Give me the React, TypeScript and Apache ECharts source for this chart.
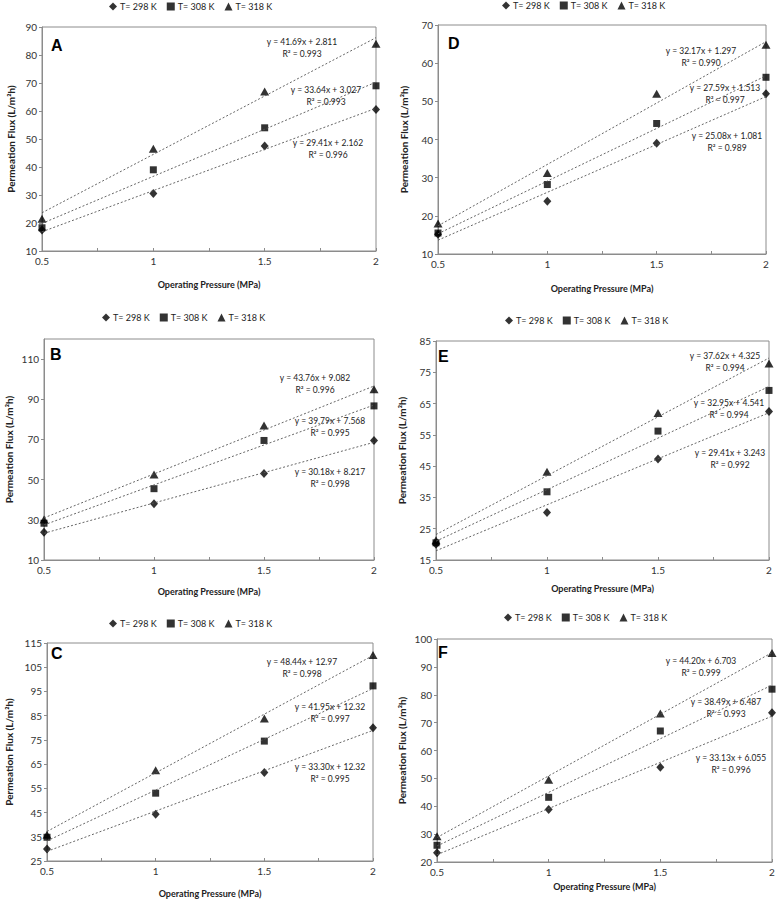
import { useEffect, useRef } from 'react'
import * as echarts from 'echarts'

const pressures = [0.5, 1, 1.5, 2]
const seriesNames = ['T= 298 K', 'T= 308 K', 'T= 318 K']
const symbols = ['diamond', 'rect', 'triangle']
const symbolSizes: any[] = [[8, 9], 7, [9, 8]]
const panelLetters = ['A', 'B', 'C', 'D', 'E', 'F']

// measured flux per panel, rows are 298 / 308 / 318 K
const fluxA = [[17.5, 30.5, 47.5, 60.5], [18.3, 39, 54, 69], [21.5, 46.5, 67, 84]]
const fluxB = [[23.8, 38, 53, 69.5], [28.3, 45.5, 69.5, 86.7], [30.2, 52.5, 77, 95]]
const fluxC = [[30, 44.3, 61.5, 80], [34.8, 53, 74.5, 97.3], [35.8, 62.5, 83.8, 110]]
const fluxD = [[15.2, 23.8, 39, 52], [15.5, 28.2, 44.2, 56.3], [18, 31.2, 52, 64.8]]
const fluxE = [[20, 30.2, 47.3, 62.5], [20.5, 36.8, 56.2, 69.2], [21.3, 43.2, 62, 77.8]]
const fluxF = [[23.3, 38.8, 54, 73.5], [26, 43.2, 67, 82], [29.2, 49.5, 73.3, 95]]

// linear fits shown on the chart
const slopesA = [29.41, 33.64, 41.69]
const interceptsA = [2.162, 3.027, 2.811]
const r2A = ['0.996', '0.993', '0.993']
const slopesB = [30.18, 39.79, 43.76]
const interceptsB = [8.217, 7.568, 9.082]
const r2B = ['0.998', '0.995', '0.996']
const slopesC = [33.3, 41.95, 48.44]
const interceptsC = [12.32, 12.32, 12.97]
const r2C = ['0.995', '0.997', '0.998']
const slopesD = [25.08, 27.59, 32.17]
const interceptsD = [1.081, 1.513, 1.297]
const r2D = ['0.989', '0.997', '0.990']
const slopesE = [29.41, 32.95, 37.62]
const interceptsE = [3.243, 4.541, 4.325]
const r2E = ['0.992', '0.994', '0.994']
const slopesF = [33.13, 38.49, 44.2]
const interceptsF = [6.055, 6.487, 6.703]
const r2F = ['0.996', '0.993', '0.999']

// y axis min / max / step
const yMins = [10, 10, 25, 10, 15, 20]
const yMaxs = [90, 120, 115, 70, 85, 100]
const ySteps = [10, 20, 10, 10, 10, 10]

const fluxes = [fluxA, fluxB, fluxC, fluxD, fluxE, fluxF]
const slopes = [slopesA, slopesB, slopesC, slopesD, slopesE, slopesF]
const intercepts = [interceptsA, interceptsB, interceptsC, interceptsD, interceptsE, interceptsF]
const r2s = [r2A, r2B, r2C, r2D, r2E, r2F]

// layout (pixels)
const grids = [
  [42, 27, 334, 224],
  [44, 339, 330, 221],
  [47, 643, 326, 218],
  [438, 25, 328, 229],
  [436, 341, 333, 219],
  [437, 639, 335, 223],
]
const legendPos = [[109, 2], [102, 313], [109, 619], [502, 1], [505, 316], [504, 613]]
const yNameGaps = [26, 30, 33, 29, 29, 30]
const xNameGaps = [29, 27, 28, 30, 24, 20]
const letterPos = [[51, 45], [50, 354], [51, 653], [448, 43], [438, 356], [438, 652]]
const eqPos = [
  [[328, 149], [326, 96], [302, 48]],
  [[330, 478], [330, 427], [315, 384]],
  [[330, 773], [330, 713], [302, 668]],
  [[727, 142], [725, 94], [701, 57]],
  [[730, 459], [729, 409], [725, 362]],
  [[731, 764], [726, 708], [701, 667]],
]

const FONT = 'Lato, "Liberation Sans", sans-serif'
const AXIS_GREY = '#8c8c8c'

export default function App() {
  const ref = useRef<HTMLDivElement>(null)

  useEffect(() => {
    if (!ref.current) return
    const chart = echarts.init(ref.current, undefined, { renderer: 'svg' })

    const series: any[] = []
    const graphic: any[] = []
    fluxes.forEach((flux, i) => {
      flux.forEach((vals, k) => {
        series.push({
          type: 'scatter',
          name: seriesNames[k],
          xAxisIndex: i,
          yAxisIndex: i,
          symbol: symbols[k],
          symbolSize: symbolSizes[k],
          itemStyle: { color: '#000' },
          data: pressures.map((x, j) => [x, vals[j]]),
          z: 3,
        })
        const ends = [pressures[0], pressures[pressures.length - 1]]
        series.push({
          type: 'line',
          xAxisIndex: i,
          yAxisIndex: i,
          symbol: 'none',
          silent: true,
          lineStyle: { color: '#555', width: 0.9, type: [2, 2] },
          data: ends.map((x) => [x, slopes[i][k] * x + intercepts[i][k]]),
          z: 4,
        })
        graphic.push({
          type: 'text',
          x: eqPos[i][k][0],
          y: eqPos[i][k][1],
          z: 10,
          style: {
            text: `y = ${slopes[i][k].toFixed(2)}x + ${intercepts[i][k]}\nR² = ${r2s[i][k]}`,
            fontFamily: FONT,
            fontSize: 8.5,
            lineHeight: 11.5,
            fill: '#222',
            textAlign: 'center',
            textVerticalAlign: 'middle',
            align: 'center',
            verticalAlign: 'middle',
          },
        })
      })
      graphic.push({
        type: 'text',
        x: letterPos[i][0],
        y: letterPos[i][1],
        z: 10,
        style: {
          text: panelLetters[i],
          fontFamily: '"Liberation Sans", Arial, sans-serif',
          fontWeight: 'bold',
          fontSize: 16,
          fill: '#000',
          textAlign: 'left',
          textVerticalAlign: 'middle',
          align: 'left',
          verticalAlign: 'middle',
        },
      })
    })

    const option: echarts.EChartsOption = {
      animation: false,
      backgroundColor: '#fff',
      textStyle: { fontFamily: FONT },
      grid: grids.map((g) => ({
        left: g[0],
        top: g[1],
        width: g[2],
        height: g[3],
        show: true,
        borderColor: AXIS_GREY,
        borderWidth: 1,
        containLabel: false,
      })),
      legend: legendPos.map((p) => ({
        left: p[0],
        top: p[1],
        padding: 0,
        itemWidth: 8,
        itemHeight: 8,
        itemGap: 10,
        selectedMode: false,
        textStyle: { fontSize: 9, color: '#222', fontFamily: FONT, padding: [0, 0, 0, -2] },
        itemStyle: { color: '#000' },
        data: seriesNames.map((n, k) => ({ name: n, icon: symbols[k] })),
      })),
      xAxis: grids.map((_, i) => ({
        type: 'value',
        gridIndex: i,
        min: 0.5,
        max: 2,
        interval: 0.25,
        name: 'Operating Pressure (MPa)',
        nameLocation: 'middle',
        nameGap: xNameGaps[i],
        nameTextStyle: { fontSize: 9, fontWeight: 'bold', color: '#222', fontFamily: FONT },
        axisLine: { show: true, lineStyle: { color: AXIS_GREY } },
        axisTick: { show: true, inside: true, length: 3, lineStyle: { color: AXIS_GREY } },
        splitLine: { show: false },
        axisLabel: {
          fontSize: 10,
          color: '#333',
          margin: 5,
          formatter: (v: number) => (Math.round(v * 4) % 2 === 0 ? String(v) : ''),
        },
      })),
      yAxis: grids.map((_, i) => ({
        type: 'value',
        gridIndex: i,
        min: yMins[i],
        max: yMaxs[i],
        interval: ySteps[i],
        name: 'Permeation Flux (L/m²h)',
        nameLocation: 'middle',
        nameGap: yNameGaps[i],
        nameTextStyle: { fontSize: 10, fontWeight: 'bold', color: '#222', fontFamily: FONT },
        axisLine: { show: true, lineStyle: { color: AXIS_GREY } },
        axisTick: { show: true, length: 3, lineStyle: { color: AXIS_GREY } },
        splitLine: { show: false },
        axisLabel: {
          fontSize: 10,
          color: '#333',
          margin: 5,
          showMaxLabel: (yMaxs[i] - yMins[i]) % ySteps[i] === 0,
        },
      })),
      series,
      graphic,
    }

    chart.setOption(option)
    return () => {
      chart.dispose()
    }
  }, [])

  return (
    <div
      ref={ref}
      style={{ position: 'absolute', left: 0, top: 0, width: 778, height: 904 }}
    />
  )
}
